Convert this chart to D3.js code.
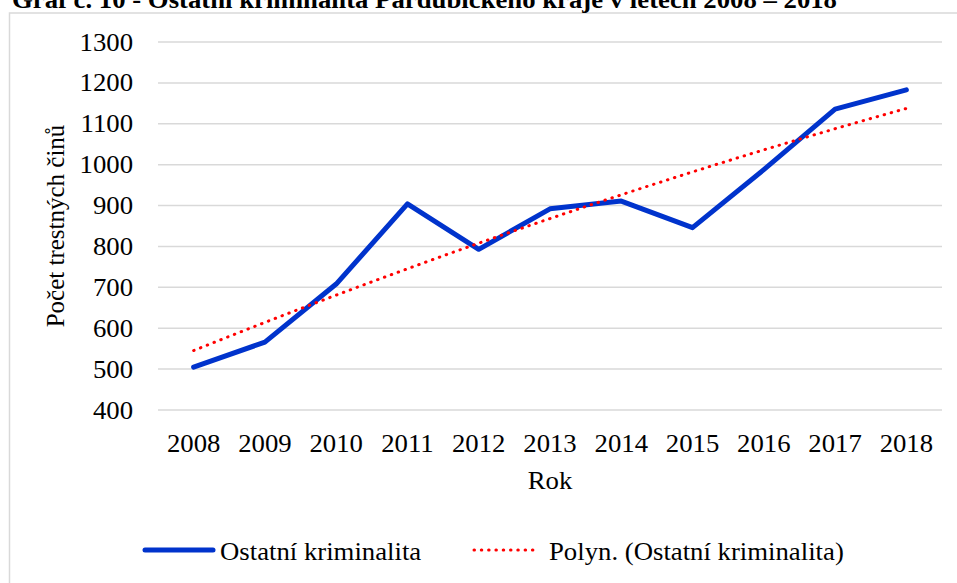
<!DOCTYPE html>
<html lang="cs">
<head>
<meta charset="UTF-8">
<title>Graf č. 10</title>
<style>
  body { margin: 0; background: #fff; }
  svg { display: block; }
  .grid line { stroke: #d9d9d9; stroke-width: 1.5; }
</style>
</head>
<body>
<svg></svg>
<script src="https://d3js.org/d3.v7.min.js"></script>
<script>
// data
const years = ["2008", "2009", "2010", "2011", "2012", "2013", "2014", "2015", "2016", "2017", "2018"];
const counts = [505, 566, 708, 904, 793, 892, 911, 846, 988, 1136, 1183];
const yTicks = [400, 500, 600, 700, 800, 900, 1000, 1100, 1200, 1300];
const seriesName = "Ostatní kriminalita";
const trendName = "Polyn. (Ostatní kriminalita)";
const title = "Graf č. 10 - Ostatní kriminalita Pardubického kraje v letech 2008 – 2018";

const width = 957, height = 583;
const serif = "\"Liberation Serif\"";
const fs = 25, sx = 1.07;   // font size, horizontal stretch of the source picture
const blue = "#0033cc", red = "#ff0000";

const svg = d3.select("svg").attr("width", width).attr("height", height);

// stretched text helper
function label(x, y, str, anchor, weight) {
  return svg.append("text")
    .attr("transform", `translate(${x},${y}) scale(${sx},1)`)
    .attr("text-anchor", anchor || "start")
    .style("font-family", serif)
    .style("font-size", fs + "px")
    .style("font-weight", weight || "normal")
    .style("fill", "#000")
    .text(str);
}

// chart frame
svg.append("rect")
  .attr("x", 9.5).attr("y", 13)
  .attr("width", 1000).attr("height", 600)
  .attr("fill", "none").attr("stroke", "#d9d9d9").attr("stroke-width", 1.5);

// title (cut off at the top in the source)
label(12, 8, title, "start", "bold");

const plotL = 158, plotR = 942, plotT = 42, plotB = 410;

const x = d3.scaleBand().domain(years).range([plotL, plotR]).padding(0);
const y = d3.scaleLinear().domain([400, 1300]).range([plotB, plotT]);

// gridlines
svg.append("g").attr("class", "grid")
  .selectAll("line").data(yTicks).enter().append("line")
  .attr("x1", plotL).attr("x2", plotR)
  .attr("y1", d => y(d)).attr("y2", d => y(d));

// y axis labels
const yAxis = svg.append("g")
  .attr("transform", `translate(${plotL},0)`)
  .call(d3.axisLeft(y).tickValues(yTicks).tickFormat(d3.format("d")).tickSize(0).tickPadding(25));
yAxis.select(".domain").remove();
yAxis.attr("font-family", null).attr("font-size", null);
yAxis.selectAll("text")
  .style("font-family", serif)
  .style("font-size", fs + "px")
  .style("fill", "#000")
  .attr("x", -25 / sx)
  .attr("transform", `scale(${sx},1)`);

// x axis labels
const xAxis = svg.append("g")
  .attr("transform", `translate(0,${plotB})`)
  .call(d3.axisBottom(x).tickSize(0));
xAxis.select(".domain").remove();
xAxis.attr("font-family", null).attr("font-size", null);
xAxis.selectAll("text")
  .style("font-family", serif)
  .style("font-size", fs + "px")
  .style("fill", "#000")
  .attr("y", 42).attr("dy", null)
  .attr("transform", `scale(${sx},1)`);

// axis titles
label((plotL + plotR) / 2, 489, "Rok", "middle");
svg.append("text")
  .attr("transform", "translate(64,226) rotate(-90)")
  .attr("text-anchor", "middle")
  .style("font-family", serif)
  .style("font-size", fs + "px")
  .text("Počet trestných  činů");

// polynomial (order 2) trend, least squares as in Excel
function polyFit(ys) {
  const S = [0, 0, 0, 0, 0], T = [0, 0, 0];
  ys.forEach((v, i) => {
    const t = i + 1;
    for (let k = 0; k < 5; k++) S[k] += Math.pow(t, k);
    for (let k = 0; k < 3; k++) T[k] += v * Math.pow(t, k);
  });
  const A = [[S[0], S[1], S[2], T[0]], [S[1], S[2], S[3], T[1]], [S[2], S[3], S[4], T[2]]];
  for (let i = 0; i < 3; i++) {
    for (let j = i + 1; j < 3; j++) {
      const f = A[j][i] / A[i][i];
      for (let k = i; k < 4; k++) A[j][k] -= f * A[i][k];
    }
  }
  const c = [0, 0, 0];
  for (let i = 2; i >= 0; i--) {
    let s = A[i][3];
    for (let k = i + 1; k < 3; k++) s -= A[i][k] * c[k];
    c[i] = s / A[i][i];
  }
  return t => c[0] + c[1] * t + c[2] * t * t;
}
const fit = polyFit(counts);
const xt = d3.scaleLinear().domain([1, years.length])
  .range([x(years[0]) + x.bandwidth() / 2, x(years[years.length - 1]) + x.bandwidth() / 2]);
const trendPts = d3.range(1, years.length + 0.001, 0.25);

// data line
svg.append("path")
  .datum(counts)
  .attr("fill", "none")
  .attr("stroke", blue)
  .attr("stroke-width", 5)
  .attr("stroke-linejoin", "round")
  .attr("stroke-linecap", "round")
  .attr("d", d3.line()
    .x((d, i) => x(years[i]) + x.bandwidth() / 2)
    .y(d => y(d)));

// trend line
svg.append("path")
  .datum(trendPts)
  .attr("fill", "none")
  .attr("stroke", red)
  .attr("stroke-width", 3)
  .attr("stroke-linecap", "round")
  .attr("stroke-dasharray", "0.5 6.8")
  .attr("d", d3.line().x(t => xt(t)).y(t => y(fit(t))));

// legend
const ly = 550;
svg.append("line")
  .attr("x1", 145).attr("x2", 213).attr("y1", ly).attr("y2", ly)
  .attr("stroke", blue).attr("stroke-width", 5).attr("stroke-linecap", "round");
label(220, 560, seriesName);
svg.append("line")
  .attr("x1", 474).attr("x2", 538).attr("y1", ly).attr("y2", ly)
  .attr("stroke", red).attr("stroke-width", 3)
  .attr("stroke-linecap", "round").attr("stroke-dasharray", "0.5 6.8");
label(549, 560, trendName);
</script>
</body>
</html>
